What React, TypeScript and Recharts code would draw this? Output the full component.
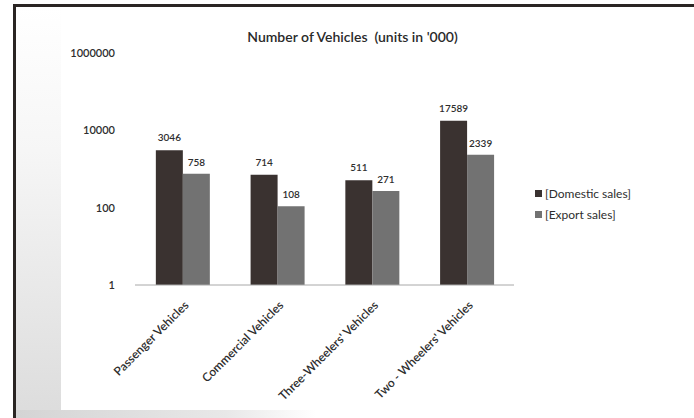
import React from "react";
import { BarChart, Bar, XAxis, YAxis, LabelList, Legend } from "recharts";

const categories = [
  "Passenger Vehicles",
  "Commercial Vehicles",
  "Three-Wheelers' Vehicles",
  "Two - Wheelers' Vehicles",
];
const domesticSales = [3046, 714, 511, 17589];
const exportSales = [758, 108, 271, 2339];
const yTicks = [1, 100, 10000, 1000000];
const seriesNames = ["[Domestic sales]", "[Export sales]"];
const title = "Number of Vehicles  (units in '000)";

const data = categories.map((c, i) => ({
  name: c,
  domestic: domesticSales[i],
  export: exportSales[i],
}));

const FONT = "Lato, 'Open Sans', sans-serif";

const XTick = (props: any) => {
  const { x, y, payload } = props;
  return (
    <g transform={`translate(${x + 4},${y + 10})`}>
      <text
        x={0}
        y={0}
        dy="0.35em"
        textAnchor="end"
        transform="rotate(-45)"
        fontSize={12}
        fontWeight={600}
        fontFamily={FONT}
        fill="#2e2e2e"
      >
        {payload.value}
      </text>
    </g>
  );
};

const renderLegend = (props: any) => {
  const { payload } = props;
  return (
    <div style={{ fontFamily: FONT, fontSize: 12, color: "#2e2e2e", textAlign: "left" }}>
      {payload.map((p: any, i: number) => (
        <div
          key={i}
          style={{ display: "flex", alignItems: "center", height: 21 }}
        >
          <span
            style={{
              display: "inline-block",
              width: 7,
              height: 7,
              background: p.color,
              marginRight: 3,
            }}
          />
          <span>{p.value}</span>
        </div>
      ))}
    </div>
  );
};

export default function App() {
  return (
    <div
      style={{
        position: "absolute",
        left: 0,
        top: 0,
        width: 694,
        height: 418,
        background: "#fff",
        overflow: "hidden",
      }}
    >
      <div
        style={{
          position: "absolute",
          left: 16,
          top: 7,
          width: 45,
          height: 411,
          background:
            "linear-gradient(to bottom, #ffffff 0%, #f6f6f6 35%, #dcdcdc 100%)",
        }}
      />
      <div
        style={{
          position: "absolute",
          left: 16,
          top: 410,
          width: 300,
          height: 8,
          background:
            "linear-gradient(to right, #d4d4d4 0%, #e8e8e8 70%, #ffffff 100%)",
        }}
      />
      <div
        style={{
          position: "absolute",
          left: 13,
          top: 4,
          right: 0,
          bottom: 0,
          borderLeft: "3px solid #2a2523",
          borderTop: "3px solid #2a2523",
        }}
      />
      <div
        style={{
          position: "absolute",
          left: 190,
          width: 325,
          top: 28,
          textAlign: "center",
          fontFamily: FONT,
          fontSize: 14,
          fontWeight: 600,
          color: "#2a2a2a",
          whiteSpace: "pre",
        }}
      >
        {title}
      </div>
      <div style={{ position: "absolute", left: 0, top: 0 }}>
        <BarChart
          width={694}
          height={418}
          data={data}
          margin={{ top: 53, right: 180, bottom: 14, left: 3 }}
          barGap={0}
          barCategoryGap="22%"
        >
          <XAxis
            dataKey="name"
            height={119}
            interval={0}
            tickLine={false}
            axisLine={{ stroke: "#a8a8a8" }}
            tick={<XTick />}
          />
          <YAxis
            scale="log"
            domain={[1, 1000000]}
            ticks={yTicks}
            allowDataOverflow
            width={132}
            axisLine={false}
            tickLine={false}
            tickSize={6}
            tickMargin={14}
            tick={{
              fontSize: 11,
              fill: "#2e2e2e",
              fontFamily: FONT,
              fontWeight: 600,
            }}
          />
          <Legend
            layout="horizontal"
            align="center"
            verticalAlign="middle"
            wrapperStyle={{ left: 535, top: 183, width: 150 }}
            content={renderLegend}
          />
          <Bar
            dataKey="domestic"
            name={seriesNames[0]}
            fill="#3a3230"
            isAnimationActive={false}
          >
            <LabelList
              dataKey="domestic"
              position="top"
              offset={9}
              fontSize={10}
              fontWeight={600}
              fill="#2e2e2e"
              fontFamily={FONT}
            />
          </Bar>
          <Bar
            dataKey="export"
            name={seriesNames[1]}
            fill="#727272"
            isAnimationActive={false}
          >
            <LabelList
              dataKey="export"
              position="top"
              offset={8}
              fontSize={10}
              fontWeight={600}
              fill="#2e2e2e"
              fontFamily={FONT}
            />
          </Bar>
        </BarChart>
      </div>
    </div>
  );
}
